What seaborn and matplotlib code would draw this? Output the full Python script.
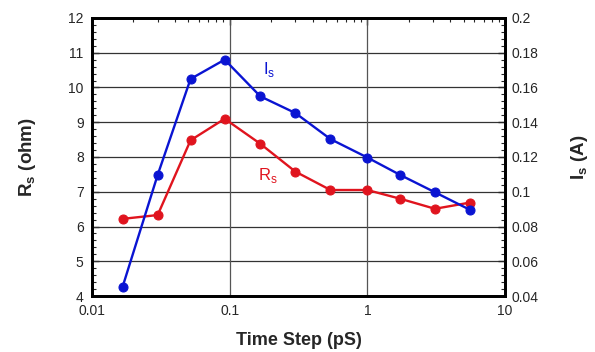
import numpy as np
import pandas as pd
import matplotlib
matplotlib.use("Agg")
from matplotlib import pyplot as plt
from matplotlib.ticker import AutoMinorLocator, FixedLocator, NullFormatter
import seaborn as sns

# time step values (pS) and measured series
time_step = [0.0167, 0.03, 0.052, 0.092, 0.167, 0.3, 0.54, 1.0, 1.73, 3.1, 5.6]
rs_ohm = [6.22, 6.33, 8.48, 9.10, 8.38, 7.58, 7.05, 7.05, 6.80, 6.51, 6.69]
is_amp = [0.0454, 0.1097, 0.1649, 0.176, 0.1549, 0.1453, 0.1303, 0.1197, 0.1097, 0.0997, 0.0895]

x_ticks = [0.01, 0.1, 1, 10]
x_labels = ["0.01", "0.1", "1", "10"]
rs_ticks = [4, 5, 6, 7, 8, 9, 10, 11, 12]
is_ticks = [0.04, 0.06, 0.08, 0.1, 0.12, 0.14, 0.16, 0.18, 0.2]
is_labels = ["0.04", "0.06", "0.08", "0.1", "0.12", "0.14", "0.16", "0.18", "0.2"]

df = pd.DataFrame({"t": time_step, "rs": rs_ohm, "is": is_amp})

sns.set_style("white")
plt.rcParams['font.family'] = ['Liberation Sans', 'DejaVu Sans']

fig = plt.figure(figsize=(5.95, 3.52), dpi=100)
ax = fig.add_axes([0.1546, 0.159, 0.6941, 0.790])
ax2 = ax.twinx()

blue = "#0a14d2"
red = "#e0141e"

sns.lineplot(data=df, x="t", y="rs", ax=ax, color=red, marker="o", markersize=6.5,
             markeredgecolor=red, linewidth=1.7, zorder=3)
sns.lineplot(data=df, x="t", y="is", ax=ax2, color=blue, marker="o", markersize=6.5,
             markeredgecolor=blue, linewidth=1.7, zorder=3)

ax.set_xscale("log")
ax.set_xlim(0.01, 10)
ax.set_ylim(4, 12)
ax2.set_ylim(0.04, 0.2)

ax.set_xticks(x_ticks)
ax.set_xticklabels(x_labels)
ax.set_yticks(rs_ticks)
ax2.set_yticks(is_ticks)
ax2.set_yticklabels(is_labels)
ax.yaxis.set_minor_locator(AutoMinorLocator(5))
ax2.yaxis.set_minor_locator(AutoMinorLocator(5))
ax.xaxis.set_minor_locator(FixedLocator([m * d for d in [0.01, 0.1, 1] for m in range(2, 10)]))
ax.xaxis.set_minor_formatter(NullFormatter())

# grid lines
for v in rs_ticks[1:-1]:
    ax.axhline(v, color="#333333", linewidth=0.9, zorder=1)
for v in [0.1, 1]:
    ax.axvline(v, color="#555555", linewidth=0.9, zorder=1)

for a in (ax, ax2):
    for s in a.spines.values():
        s.set_linewidth(2)
        s.set_color("black")
ax.tick_params(axis="both", which="major", direction="in", length=5, width=1,
               labelsize=10, pad=6, top=True)
ax.tick_params(axis="both", which="minor", direction="in", length=3, width=0.8, top=True)
ax.tick_params(axis="y", which="both", right=False)
ax2.tick_params(axis="y", which="major", direction="in", length=5, width=1, labelsize=10, pad=5)
ax2.tick_params(axis="y", which="minor", direction="in", length=3, width=0.8)

ax.set_xlabel("Time Step (pS)", fontsize=13, fontweight="bold", labelpad=10)
ax.set_ylabel("R$_\\mathregular{s}$ (ohm)", fontsize=13.5, fontweight="bold", labelpad=22)
ax2.set_ylabel("I$_\\mathregular{s}$ (A)", fontsize=13.5, fontweight="bold", labelpad=22,
               rotation=90)

ax.text(0.175, 10.4, "I$_\\mathregular{s}$", color=blue, fontsize=12)
ax.text(0.16, 7.35, "R$_\\mathregular{s}$", color=red, fontsize=12)

fig.savefig("out.png", dpi=100)
